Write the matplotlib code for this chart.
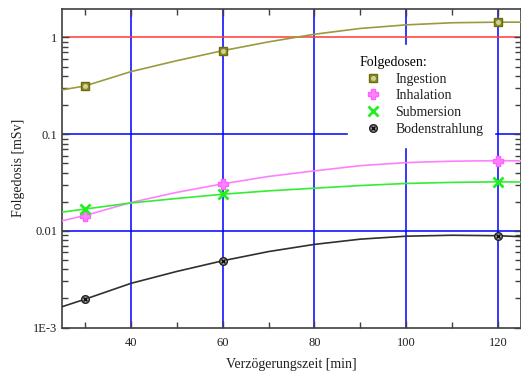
import matplotlib
matplotlib.use('Agg')
import matplotlib.pyplot as plt
from matplotlib.ticker import FixedLocator, FixedFormatter, MultipleLocator, LogLocator, NullFormatter
import numpy as np

#%% data
t_marks = [30, 60, 120]
ingestion_marks = [0.315, 0.73, 1.44]
inhalation_marks = [0.0144, 0.0306, 0.0532]
submersion_marks = [0.0168, 0.0239, 0.0321]
boden_marks = [0.00196, 0.0049, 0.0088]

t_curve = [25, 30, 40, 50, 60, 70, 80, 90, 100, 110, 120, 125]
ingestion_curve = [0.287, 0.315, 0.443, 0.575, 0.73, 0.90, 1.08, 1.24, 1.35, 1.42, 1.44, 1.44]
inhalation_curve = [0.0127, 0.0144, 0.0196, 0.0250, 0.0306, 0.0365, 0.0417, 0.0472, 0.0508, 0.0525, 0.0532, 0.0529]
submersion_curve = [0.0156, 0.0168, 0.0194, 0.0216, 0.0239, 0.0259, 0.0276, 0.0294, 0.0309, 0.0317, 0.0321, 0.0320]
boden_curve = [0.00164, 0.00196, 0.00286, 0.0038, 0.0049, 0.0061, 0.00724, 0.0082, 0.0088, 0.0090, 0.0089, 0.0087]

xticks = [40, 60, 80, 100, 120]
yticks = [1e-3, 1e-2, 1e-1, 1]
ytick_labels = ['1E-3', '0.01', '0.1', '1']

#%% figure
plt.rcParams['font.family'] = ['Liberation Serif', 'DejaVu Serif']
fig = plt.figure(figsize=(5.21, 3.74), dpi=100)
ax = fig.add_axes([62/521, 46.5/374, 459/521, 318.5/374])
ax.set_yscale('log')
ax.set_xlim(25, 125)
ax.set_ylim(1e-3, 1.97)

# grid lines
for x in xticks:
    ax.axvline(x, color='#0000ff', lw=1.1, zorder=1)
ax.axhline(0.1, color='#0000ff', lw=1.1, zorder=1)
ax.axhline(0.01, color='#0000ff', lw=1.1, zorder=1)
ax.axhline(1, color='#ff3838', lw=1.1, zorder=1)

# curves
ax.plot(t_curve, ingestion_curve, color='#9a9a40', lw=1.2, zorder=3)
ax.plot(t_curve, inhalation_curve, color='#ff80ff', lw=1.2, zorder=3)
ax.plot(t_curve, submersion_curve, color='#33ee33', lw=1.2, zorder=3)
ax.plot(t_curve, boden_curve, color='#303030', lw=1.2, zorder=3)

# markers
h1a, = ax.plot(t_marks, ingestion_marks, ls='none', marker='s', ms=6, mfc='#8f8f20', mec='#6b6b10', zorder=4)
h1b, = ax.plot(t_marks, ingestion_marks, ls='none', marker='o', ms=2.5, mfc='#d0d0a0', mec='#d0d0a0', zorder=5)
h2, = ax.plot(t_marks, inhalation_marks, ls='none', marker='P', ms=7, mfc='#ff80ff', mec='#ff60ff', zorder=4)
h3, = ax.plot(t_marks, submersion_marks, ls='none', marker='x', ms=7, mew=2, color='#22ee22', zorder=4)
h4a, = ax.plot(t_marks, boden_marks, ls='none', marker='o', ms=5.5, mfc='#a0a0a0', mec='#202020', zorder=4)
h4b, = ax.plot(t_marks, boden_marks, ls='none', marker='x', ms=3.5, mew=1, color='#101010', zorder=5)

# ticks
ax.xaxis.set_major_locator(FixedLocator(xticks))
ax.xaxis.set_minor_locator(MultipleLocator(10))
ax.yaxis.set_major_locator(FixedLocator(yticks))
ax.yaxis.set_major_formatter(FixedFormatter(ytick_labels))
ax.yaxis.set_minor_locator(LogLocator(base=10, subs=np.arange(2, 10)))
ax.yaxis.set_minor_formatter(NullFormatter())
ax.tick_params(which='both', direction='in', top=True, right=True, color='#404040',
               labelsize=9, labelcolor='#202020')
ax.tick_params(which='major', length=5, width=1)
ax.tick_params(which='minor', length=4, width=1)
ax.tick_params(axis='x', pad=7)
for s in ax.spines.values():
    s.set_color('#404040')
    s.set_linewidth(1.2)

ax.set_xlabel('Verzögerungszeit [min]', fontsize=10, color='#202020', labelpad=6)
ax.set_ylabel('Folgedosis [mSv]', fontsize=10, color='#202020', labelpad=6)

leg = ax.legend([(h1a, h1b), h2, h3, (h4a, h4b)],
                ['Ingestion', 'Inhalation', 'Submersion', 'Bodenstrahlung'],
                title='Folgedosen:', loc='upper left', bbox_to_anchor=(0.623, 0.887),
                borderaxespad=0, fontsize=10, title_fontsize=10, frameon=True, fancybox=False,
                facecolor='white', edgecolor='white', framealpha=1,
                labelspacing=0.26, handlelength=2.0, handletextpad=0.6,
                borderpad=0.8, alignment='left')
leg.set_zorder(6)
for txt in leg.get_texts():
    txt.set_color('#202020')

fig.savefig('out.png', dpi=100)
